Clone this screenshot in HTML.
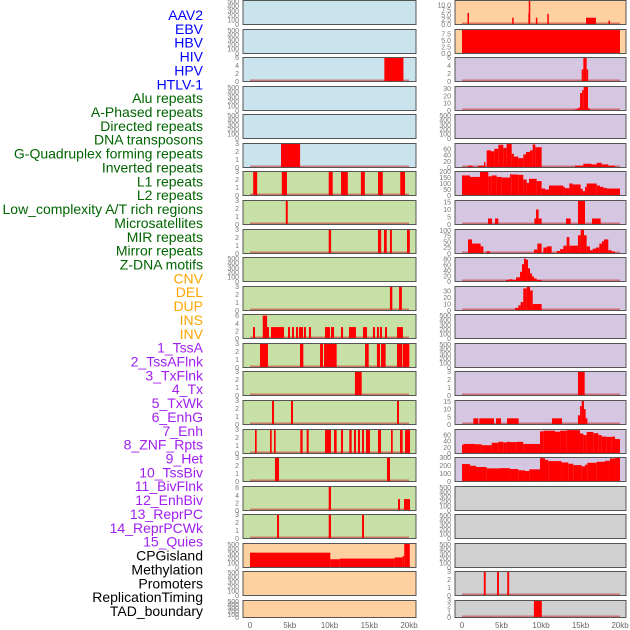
<!DOCTYPE html>
<html><head><meta charset="utf-8"><style>
html,body{margin:0;padding:0;background:#fff;width:630px;height:630px;overflow:hidden}
svg{display:block;font-family:"Liberation Sans",sans-serif}
</style></head><body>
<svg id="chart" width="630" height="630"></svg>
<script>
const panelNames=["AAV2","EBV","HBV","HIV","HPV","HTLV-1","Alu repeats","A-Phased repeats","Directed repeats","DNA transposons","G-Quadruplex forming repeats","Inverted repeats","L1 repeats","L2 repeats","Low_complexity A/T rich regions","Microsatellites","MIR repeats","Mirror repeats","Z-DNA motifs","CNV","DEL","DUP","INS","INV","1_TssA","2_TssAFlnk","3_TxFlnk","4_Tx","5_TxWk","6_EnhG","7_Enh","8_ZNF_Rpts","9_Het","10_TssBiv","11_BivFlnk","12_EnhBiv","13_ReprPC","14_ReprPCWk","15_Quies","CPGisland","Methylation","Promoters","ReplicationTiming","TAD_boundary"];
const groupOf=["v","v","v","v","v","v","r","r","r","r","r","r","r","r","r","r","r","r","r","c","c","c","c","c","s","s","s","s","s","s","s","s","s","s","s","s","s","s","s","m","m","m","m","m"];
const panelMax=[525,525,6,525,525,3,3,3,3,525,3,6.3,3,3,3,3,3,6.3,3,525,525,525,12.4,9.2,6,33,525,77,200,16,104,86,37,525,525,3,15.6,78,300,525,525,525,3,3];
const T500=["0","100","200","300","400","500"],T3=["0","1","2","3"],T6=["0","2","4","6"];
const panelTicks=[T500,T500,T6,T500,T500,T3,T3,T3,T3,T500,T3,T6,T3,T3,T3,T3,T3,T6,T3,T500,T500,T500,
["0.0","2.5","5.0","7.5","10.0"],["0.0","2.5","5.0","7.5"],T6,["0","10","20","30"],T500,["0","20","40","60"],["0","50","100","150","200"],["0","5","10","15"],["0","25","50","75","100"],["0","20","40","60","80"],["0","10","20","30"],T500,T500,T3,["0","5","10","15"],["0","20","40","60"],["0","100","200","300"],T500,T500,T500,T3,T3];
const panelSegs=[
[],[],[[16.9,19.3,6]],[],[],[[3.9,6.3,3]],
[[0.4,0.9,3],[4.0,4.65,3],[9.9,10.4,3],[11.45,12.3,3],[13.95,14.45,3],[16.1,16.7,3],[18.9,19.5,3]],
[[4.5,4.75,3]],
[[9.9,10.2,3],[16.1,16.5,3],[16.85,17.2,3],[17.6,17.85,3],[19.75,20.1,3]],
[],
[[17.6,17.9,3],[18.75,19.1,3]],
[[0.38,0.63,3],[1.6,2.15,6],[2.14,2.39,3],[2.64,4.28,3],[4.78,5.03,3],[5.28,5.53,3],[5.79,6.04,3],[6.16,6.67,3],[6.79,7.04,3],[7.42,7.67,3],[9.43,10.06,3],[10.19,10.57,3],[11.45,11.7,3],[12.45,13.33,3],[14.21,14.72,3],[15.47,15.72,3],[15.97,16.23,3],[16.35,16.6,3],[16.98,17.23,3],[18.49,19.24,3]],
[[1.26,2.26,3],[6.29,6.71,3],[8.81,9.18,3],[9.31,10.9,3],[14.47,14.93,3],[15.97,16.35,3],[16.48,17.06,3],[18.49,19.16,3],[19.24,20.04,3]],
[[13.2,14.05,3]],
[[2.77,3.02,3],[5.16,5.41,3],[18.49,18.74,3]],
[[0.63,0.84,3],[2.52,2.73,3],[3.02,3.23,3],[6.33,6.62,3],[7.13,7.38,3],[9.43,10.19,3],[10.57,10.9,3],[11.45,11.7,3],[12.49,12.79,3],[13.08,13.33,3],[13.58,13.84,3],[14.09,14.34,3],[14.59,15.09,3],[16.1,16.48,3],[17.74,17.95,3],[18.87,19.2,3],[19.5,20.13,3]],
[[3.14,3.65,3],[17.23,17.61,3]],
[[9.9,10.19,6.3],[18.62,18.87,3],[19.37,20.13,3]],
[[3.4,3.65,3],[9.9,10.19,3],[14.09,14.34,3]],
[[0,10.1,325],[10.1,11.3,180],[11.3,18.2,195],[18.2,19.2,220],[19.2,19.4,250],[19.4,20.1,525]],
[],[],
[[0.7,0.8,6],[6.35,6.45,3.5],[8.45,8.55,12.4],[8.4,8.6,6],[9.35,9.5,3.5],[10.8,10.9,5.5],[15.7,16.95,3.5],[18.55,18.65,2]],
[[0,20,9.2]],
[[15.15,15.36,3],[15.36,15.78,6],[15.78,15.95,3]],
[[14.35,14.7,2],[14.7,14.95,4],[14.95,15.2,24],[15.2,15.4,28],[15.4,15.95,33],[15.95,16.2,3]],
[],
[[0.76,1.35,6],[2.03,2.78,6],[2.78,2.95,17],[3.12,3.67,55],[3.67,4.09,52],[4.09,4.6,60],[4.6,5.23,73],[5.23,5.65,63],[5.65,6.29,77],[6.29,6.58,44],[6.58,7.13,35],[7.13,7.76,30],[7.76,8.1,42],[8.1,8.61,50],[8.61,8.95,55],[8.95,9.28,74],[9.28,10.08,65],[14.3,15.36,6],[15.36,16.41,12],[16.41,17.05,10],[17.05,17.68,15],[17.68,18.52,10],[18.52,19.37,6]],
[[0,1.01,167],[1.01,2.28,155],[2.28,3.33,197],[3.33,3.76,160],[3.76,4.39,167],[4.39,5.02,155],[5.02,6.08,150],[6.08,6.29,178],[6.29,7.13,175],[7.13,7.76,172],[7.76,8.19,133],[8.19,8.48,105],[8.48,9.45,139],[9.45,10.08,120],[10.08,10.51,58],[10.51,11.01,50],[11.01,12.83,83],[12.83,13.04,70],[13.04,13.59,61],[13.59,14.0,100],[14.0,15.02,92],[15.02,15.28,55],[15.28,15.57,36],[15.57,15.78,72],[15.78,17.05,100],[17.05,17.47,83],[17.47,17.89,72],[17.89,18.31,64],[18.31,20.0,58]],
[[3.29,3.8,4],[4.18,4.6,4],[9.16,9.37,4],[9.37,9.7,10],[9.7,10.08,4],[13.16,13.76,4],[14.68,15.57,16],[16.46,17.55,4]],
[[0.76,1.27,61],[1.27,2.36,43],[2.36,2.7,31],[3.12,3.54,10],[9.11,9.54,17],[9.54,10.08,43],[10.3,10.72,26],[10.72,11.35,31],[11.98,12.41,11],[12.41,12.83,19],[12.83,13.25,34],[13.25,13.59,71],[13.59,14.68,34],[14.68,15.02,79],[15.02,15.44,103],[15.44,15.78,79],[15.78,16.2,31],[16.2,16.54,14],[16.54,16.96,21],[16.96,17.38,26],[17.38,17.72,43],[17.72,17.97,53],[17.97,18.52,61],[18.52,18.95,14],[18.95,19.37,9]],
[[5.57,5.99,6],[5.99,6.4,8],[6.4,6.84,6],[6.84,7.34,15],[7.34,7.59,35],[7.59,7.85,62],[7.85,8.1,82],[8.1,8.35,78],[8.35,8.61,47],[8.61,8.86,29],[8.86,9.11,18],[9.11,9.45,11],[9.45,10.08,6]],
[[6.71,7.13,4],[7.13,7.43,8],[7.43,7.76,13],[7.76,8.19,34],[8.19,8.61,37],[8.61,8.95,31],[8.95,10.08,10]],
[],[],
[[14.68,15.53,3]],
[[1.43,2.07,4],[2.19,4.05,4],[4.3,4.94,4],[5.7,7.17,4],[11.39,12.66,4],[14.68,14.94,6],[14.94,15.15,12],[15.15,15.44,15.5],[15.44,15.65,10],[15.65,15.87,4]],
[[0,0.17,28],[0.17,1.65,31],[1.65,2.49,30],[2.49,3.76,27],[3.76,4.6,35],[4.6,5.23,38],[5.23,5.65,36],[5.65,6.08,38],[6.08,6.92,37],[6.92,7.76,38],[7.76,9.87,31],[9.87,10.3,72],[10.3,11.77,74],[11.77,12.41,71],[12.41,13.25,74],[13.25,14.94,76],[14.94,15.36,65],[15.36,15.78,60],[15.78,16.62,70],[16.62,17.26,66],[17.26,17.68,60],[17.68,18.31,55],[18.31,18.95,54],[18.95,19.37,55],[19.37,20.0,47]],
[[0,1.01,218],[1.01,1.77,197],[1.77,3.12,181],[3.12,4.81,164],[4.81,6.08,167],[6.08,7.13,156],[7.13,7.97,140],[7.97,8.52,131],[8.52,9.87,152],[9.87,10.51,292],[10.51,10.93,271],[10.93,12.6,255],[12.6,13.46,238],[13.46,14.09,222],[14.09,15.15,205],[15.15,15.57,189],[15.57,15.87,210],[15.87,17.05,234],[17.05,18.1,247],[18.1,18.73,259],[18.73,19.37,288],[19.37,20.0,300]],
[],[],[],
[[2.76,3.0,3],[4.44,4.68,3],[5.73,5.97,3]],
[[9.1,10.1,3]]
];
const groupColor={v:"#0000ff",r:"#006400",c:"#ffa500",s:"#a020f0",m:"#000000"};
const bgColor=[ "#c9e4ec","#c9e4ec","#c9e4ec","#c9e4ec","#c9e4ec","#c9e4ec",
"#c7e0a5","#c7e0a5","#c7e0a5","#c7e0a5","#c7e0a5","#c7e0a5","#c7e0a5","#c7e0a5","#c7e0a5","#c7e0a5","#c7e0a5","#c7e0a5","#c7e0a5",
"#ffd0a0","#ffd0a0","#ffd0a0","#ffd0a0","#ffd0a0",
"#d5c6e2","#d5c6e2","#d5c6e2","#d5c6e2","#d5c6e2","#d5c6e2","#d5c6e2","#d5c6e2","#d5c6e2","#d5c6e2","#d5c6e2","#d5c6e2","#d5c6e2","#d5c6e2","#d5c6e2",
"#d0d0d0","#d0d0d0","#d0d0d0","#d0d0d0","#d0d0d0"];
const xTickVals=[0,5,10,15,20];
const xTickLabels=["0","5kb","10kb","15kb","20kb"];

const NS="http://www.w3.org/2000/svg";
const svg=document.getElementById("chart");
function mk(tag,attrs,parent){const e=document.createElementNS(NS,tag);for(const k in attrs)e.setAttribute(k,attrs[k]);(parent||svg).appendChild(e);return e;}
const colX=[{x0:243,w:173,z:250,s:7.95},{x0:455,w:171,z:462,s:7.9}];
function xScale(c,kb){return colX[c].z+kb*colX[c].s;}

// labels
panelNames.forEach((n,i)=>{
  const t=mk("text",{x:203,y:15+i*13.86+5,"text-anchor":"end","font-size":"14",fill:groupColor[groupOf[i]]});
  t.textContent=n;
  
  
});

panelNames.forEach((n,i)=>{
  const c=i<22?0:1,row=i%22;
  const top=Math.round(row*28.57)+0.5;
  const h=row===21?17:24;
  const bottom=top+h;
  const g=mk("g",{});
  
  
  const px=colX[c].x0;
  mk("rect",{x:px,y:top,width:colX[c].w,height:h,fill:bgColor[i],stroke:"none"},g);
  const yS=v=>bottom-v/panelMax[i]*h;
  const segs=panelSegs[i];
  if(segs.length){
    const bl=mk("line",{x1:xScale(c,0),x2:xScale(c,20),y1:bottom-1,y2:bottom-1,stroke:"rgba(200,40,40,0.55)","stroke-width":2},g);
    
    
  }
  segs.forEach(s=>{
    const x1=xScale(c,s[0]),x2=xScale(c,s[1]);
    const y=Math.max(top,yS(s[2]));
    const r=mk("rect",{x:x1,y:y,width:Math.max(1.5,x2-x1),height:bottom-y,fill:"#ff0000"},g);
    
    
  });
  mk("rect",{x:px,y:top,width:colX[c].w,height:h,fill:"none",stroke:"#555","stroke-width":1},g);
  const ticks=panelTicks[i];
  ticks.forEach(tl=>{
    const v=parseFloat(tl);
    const t=mk("text",{x:px-4,y:yS(v)+2.5,"text-anchor":"end","font-size":"7",fill:"#777"},g);
    t.textContent=tl;
    
    
  });
});

[0,1].forEach(c=>{
  xTickVals.forEach((v,k)=>{
    const t=mk("text",{x:xScale(c,v),y:628,"text-anchor":"middle","font-size":"8",fill:"#666"});
    t.textContent=xTickLabels[k];
    
    
  });
});
</script>
</body></html>
